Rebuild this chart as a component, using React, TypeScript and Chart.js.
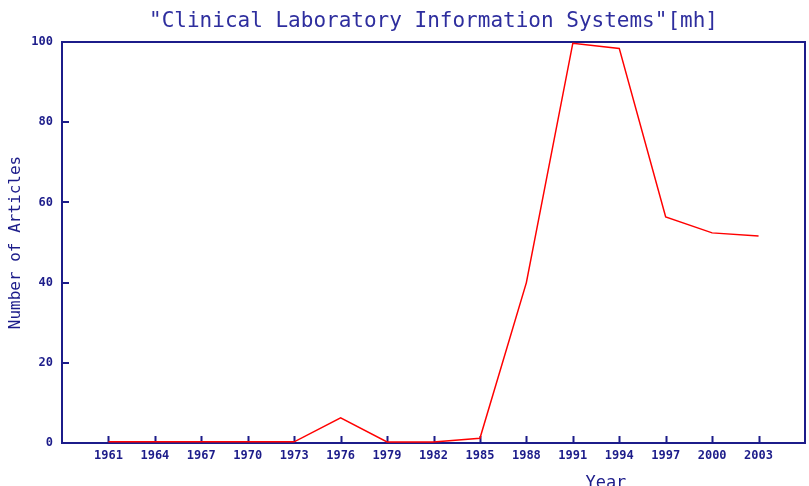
import React, { useEffect, useRef } from "react";
import { Chart, registerables } from "chart.js";

Chart.register(...registerables);

const years = [1961, 1964, 1967, 1970, 1973, 1976, 1979, 1982, 1985, 1988, 1991, 1994, 1997, 2000, 2003];
const articles = [0.3, 0.3, 0.3, 0.3, 0.3, 6.3, 0.25, 0.25, 1.2, 40, 99.7, 98.4, 56.4, 52.4, 51.6];
const yTicks = [0, 20, 40, 60, 80, 100];
const titleText = '"Clinical Laboratory Information Systems"[mh]';
const xTitle = "Year";
const yTitle = "Number of Articles";

const NAVY = "#1c1c8a";
const TITLE_BLUE = "#2e2e9e";
const MONO = "'DejaVu Sans Mono', 'Liberation Mono', monospace";

const decorPlugin = {
  id: "decor",
  beforeDatasetsDraw(chart: any) {
    const { ctx, chartArea } = chart;
    const xs = chart.scales.x;
    const ys = chart.scales.y;
    ctx.save();
    ctx.strokeStyle = NAVY;
    ctx.lineWidth = 2;
    ctx.strokeRect(chartArea.left, chartArea.top, chartArea.right - chartArea.left, chartArea.bottom - chartArea.top);
    ctx.beginPath();
    years.forEach((yr) => {
      const px = Math.round(xs.getPixelForValue(yr)) + 0.5;
      ctx.moveTo(px, chartArea.bottom);
      ctx.lineTo(px, chartArea.bottom - 7);
    });
    yTicks.forEach((v) => {
      const py = Math.round(ys.getPixelForValue(v));
      ctx.moveTo(chartArea.left, py);
      ctx.lineTo(chartArea.left + 7, py);
    });
    ctx.stroke();
    ctx.restore();
  },
  afterDraw(chart: any) {
    const { ctx, chartArea } = chart;
    ctx.save();
    ctx.fillStyle = TITLE_BLUE;
    ctx.font = `21px ${MONO}`;
    ctx.textAlign = "center";
    ctx.textBaseline = "middle";
    ctx.fillText(titleText, (chartArea.left + chartArea.right) / 2, 22);

    ctx.fillStyle = NAVY;
    ctx.font = `17px ${MONO}`;
    ctx.textBaseline = "alphabetic";
    ctx.fillText(xTitle, chartArea.left + (chartArea.right - chartArea.left) * 0.732, 488);

    ctx.font = `16px ${MONO}`;
    ctx.translate(16, (chartArea.top + chartArea.bottom) / 2);
    ctx.rotate(-Math.PI / 2);
    ctx.textBaseline = "middle";
    ctx.fillText(yTitle, 0, 0);
    ctx.restore();
  },
};

export default function App() {
  const ref = useRef<HTMLCanvasElement>(null);
  useEffect(() => {
    document.body.style.margin = "0";
    const canvas = ref.current!;
    const chart = new Chart(canvas, {
      type: "line",
      data: {
        datasets: [
          {
            data: years.map((y, i) => ({ x: y, y: articles[i] })),
            borderColor: "rgb(255,0,0)",
            borderWidth: 1.5,
            pointRadius: 0,
            tension: 0,
            fill: false,
          },
        ],
      },
      options: {
        animation: false,
        responsive: false,
        layout: { padding: { top: 42, right: 4, left: 0, bottom: 0 } },
        plugins: { legend: { display: false }, title: { display: false }, tooltip: { enabled: false } },
        scales: {
          x: {
            type: "linear",
            min: 1958,
            max: 2006,
            afterBuildTicks: (scale: any) => {
              scale.ticks = years.map((v) => ({ value: v }));
            },
            afterFit: (scale: any) => {
              scale.height = 43;
            },
            grid: { display: false, drawTicks: false },
            border: { display: false },
            ticks: {
              autoSkip: false,
              maxRotation: 0,
              padding: 6,
              color: NAVY,
              font: { family: MONO, size: 12, weight: "bold" },
              callback: (v: any) => String(v),
            },
          },
          y: {
            min: 0,
            max: 100,
            afterBuildTicks: (scale: any) => {
              scale.ticks = yTicks.map((v) => ({ value: v }));
            },
            afterFit: (scale: any) => {
              scale.width = 62;
            },
            grid: { display: false, drawTicks: false },
            border: { display: false },
            ticks: {
              padding: 9,
              color: NAVY,
              font: { family: MONO, size: 12, weight: "bold" },
            },
          },
        },
      },
      plugins: [decorPlugin],
    } as any);
    return () => chart.destroy();
  }, []);
  return <canvas ref={ref} width={809} height={486} style={{ display: "block" }} />;
}
